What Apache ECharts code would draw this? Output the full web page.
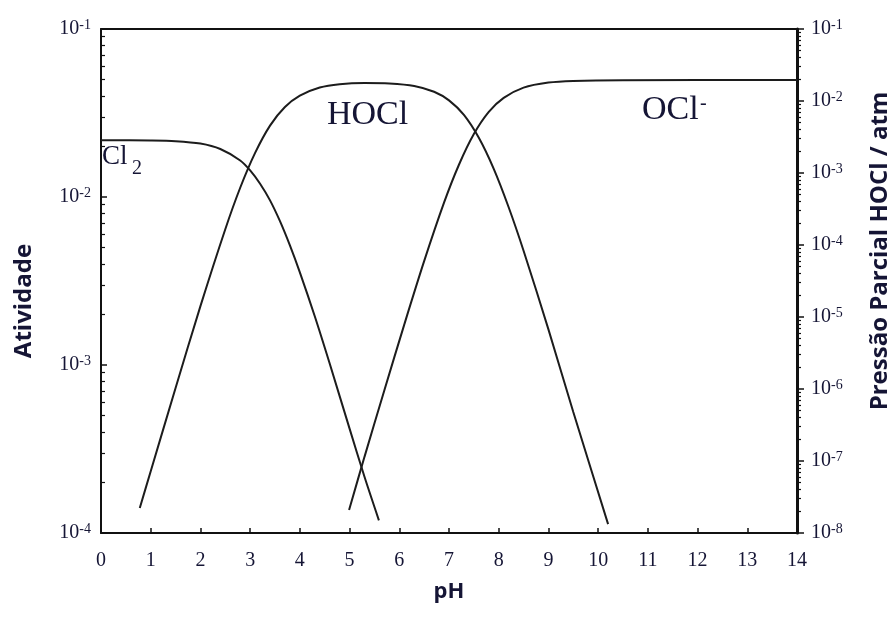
<!DOCTYPE html>
<html>
<head>
<meta charset="utf-8">
<script src="https://cdn.jsdelivr.net/npm/echarts@6/dist/echarts.min.js"></script>
<style>
html,body{margin:0;padding:0;background:#fff;}
#chart{width:892px;height:619px;}
</style>
</head>
<body>
<div id="chart"></div>
<script>
// ---- data (pH, activity) ----
const cl2PH   = [0, 1.0, 1.5, 2.0, 2.4, 2.8, 3.0, 3.2, 3.4, 3.6, 3.8, 4.0, 4.3, 4.6, 5.0, 5.3, 5.59];
const cl2Act  = [0.0218, 0.0217, 0.0215, 0.0208, 0.0193, 0.0165, 0.0144, 0.0120, 0.00955, 0.00718, 0.00515, 0.00356, 0.00195, 0.00102, 0.000418, 0.000216, 0.000119];

const hoclPH  = [0.78, 1.0, 1.5, 2.0, 2.5, 2.8, 3.1, 3.4, 3.7, 4.0, 4.4, 4.8, 5.3, 5.8, 6.3, 6.7, 7.0, 7.3, 7.6, 7.9, 8.2, 8.5, 9.0, 9.5, 10.2];
const hoclAct = [0.000141, 0.000233, 0.00073, 0.00224, 0.00643, 0.01135, 0.0183, 0.0266, 0.0343, 0.0401, 0.0448, 0.0469, 0.0477, 0.0474, 0.0458, 0.0423, 0.0376, 0.0308, 0.0225, 0.0147, 0.00869, 0.00479, 0.00163, 0.000525, 0.000113];

const oclPH   = [4.99, 5.3, 5.7, 6.1, 6.5, 6.9, 7.2, 7.5, 7.8, 8.1, 8.5, 9.0, 9.5, 10.5, 14];
const oclAct  = [0.000137, 0.000284, 0.000708, 0.00174, 0.00415, 0.00925, 0.01556, 0.0237, 0.0321, 0.0389, 0.0448, 0.0480, 0.0491, 0.0496, 0.0497];

// ---- axes ----
const xTicks = [0,1,2,3,4,5,6,7,8,9,10,11,12,13,14];
const leftExponents  = [-4, -3, -2, -1];
const rightExponents = [-8, -7, -6, -5, -4, -3, -2, -1];
const minorMultipliers = [2,3,4,5,6,7,8,9];

const pow10 = e => Number('1e' + e);
const leftDecades  = leftExponents.map(pow10);
const rightDecades = rightExponents.map(pow10);
function minors(exps){
  const out = [];
  for (let i = 0; i < exps.length - 1; i++) {
    minorMultipliers.forEach(m => out.push(Number(m + 'e' + exps[i])));
  }
  return out;
}
const leftMinor = minors(leftExponents);
const rightMinor = minors(rightExponents);

const pair = (xs, ys) => xs.map((x, i) => [x, ys[i]]);

const ink = '#151535';
const lineInk = '#1c1c1c';
const serif = 'Liberation Serif';
const richLabel = {
  m: {fontFamily: serif, fontSize: 20, color: ink, lineHeight: 22},
  e: {fontFamily: serif, fontSize: 14, color: ink, verticalAlign: 'top', lineHeight: 22, padding: [0,0,8,0]}
};
const powFmt = v => '{m|10}{e|' + Math.round(Math.log10(v)) + '}';

const chart = echarts.init(document.getElementById('chart'), null, {renderer: 'canvas'});
const lineSeries = (name, xs, ys) => ({
  name, type: 'line', data: pair(xs, ys), showSymbol: false, smooth: 0.3,
  lineStyle: {color: lineInk, width: 2}, xAxisIndex: 0, yAxisIndex: 0
});
const option = {
  animation: false,
  backgroundColor: '#fff',
  grid: {left: 101, right: 95, top: 29, bottom: 86},
  xAxis: [
    {
      type: 'value', min: 0, max: 14, interval: 1, position: 'bottom',
      axisLine: {show: true, lineStyle: {color: '#111', width: 2}},
      axisTick: {show: true, inside: true, length: 5, lineStyle: {color: '#111', width: 1.5}},
      axisLabel: {fontFamily: serif, fontSize: 20, color: ink, margin: 18},
      splitLine: {show: false},
      name: 'pH', nameLocation: 'middle', nameGap: 48,
      nameTextStyle: {fontFamily: 'Open Sans', fontWeight: 'bold', fontSize: 22, color: ink}
    },
    {
      type: 'value', min: 0, max: 14, position: 'top',
      axisLine: {show: true, lineStyle: {color: '#111', width: 2}},
      axisTick: {show: false}, axisLabel: {show: false}, splitLine: {show: false}
    }
  ],
  yAxis: [
    {
      type: 'log', logBase: 10, min: 1e-4, max: 1e-1, position: 'left',
      axisLine: {show: true, lineStyle: {color: '#111', width: 2}},
      axisTick: {show: true, inside: true, length: 6, customValues: leftDecades, lineStyle: {color: '#111', width: 1.5}},
      axisLabel: {customValues: leftDecades, formatter: powFmt, rich: richLabel, margin: 10},
      splitLine: {show: false}
    },
    {
      type: 'log', logBase: 10, min: 1e-4, max: 1e-1, position: 'left',
      axisLine: {show: false},
      axisTick: {show: true, inside: true, length: 4, customValues: leftMinor, lineStyle: {color: '#111', width: 1.2}},
      axisLabel: {show: false}, splitLine: {show: false}
    },
    {
      type: 'log', logBase: 10, min: 1e-8, max: 1e-1, position: 'right',
      axisLine: {show: true, lineStyle: {color: '#111', width: 3}},
      axisTick: {show: true, inside: false, length: 7, customValues: rightDecades, lineStyle: {color: '#111', width: 1.5}},
      axisLabel: {customValues: rightDecades, formatter: powFmt, rich: richLabel, margin: 14},
      splitLine: {show: false}
    },
    {
      type: 'log', logBase: 10, min: 1e-8, max: 1e-1, position: 'right',
      axisLine: {show: false},
      axisTick: {show: true, inside: false, length: 4, customValues: rightMinor, lineStyle: {color: '#111', width: 1.2}},
      axisLabel: {show: false}, splitLine: {show: false}
    }
  ],
  series: [
    lineSeries('Cl2', cl2PH, cl2Act),
    lineSeries('HOCl', hoclPH, hoclAct),
    lineSeries('OCl-', oclPH, oclAct)
  ],
  graphic: [
    {type: 'text', x: 102, y: 157, z: 10, style: {text: 'Cl', font: '27px "Liberation Serif"', fill: ink, verticalAlign: 'middle'}},
    {type: 'text', x: 132, y: 169, z: 10, style: {text: '2', font: '20px "Liberation Serif"', fill: ink, verticalAlign: 'middle'}},
    {type: 'text', x: 327, y: 115, z: 10, style: {text: 'HOCl', font: '34px "Liberation Serif"', fill: ink, verticalAlign: 'middle'}},
    {type: 'text', x: 642, y: 110, z: 10, style: {text: 'OCl', font: '34px "Liberation Serif"', fill: ink, verticalAlign: 'middle'}},
    {type: 'text', x: 700, y: 104, z: 10, style: {text: '-', font: '20px "Liberation Serif"', fill: ink, verticalAlign: 'middle'}},
    {type: 'text', x: 24, y: 301, rotation: Math.PI / 2, z: 10,
     style: {text: 'Atividade', font: 'bold 24px "Open Sans"', fill: ink, align: 'center', verticalAlign: 'middle'}},
    {type: 'text', x: 880, y: 251, rotation: Math.PI / 2, z: 10,
     style: {text: 'Pressão Parcial HOCl / atm', font: 'bold 24px "Open Sans"', fill: ink, align: 'center', verticalAlign: 'middle'}}
  ]
};
chart.setOption(option);
</script>
</body>
</html>
